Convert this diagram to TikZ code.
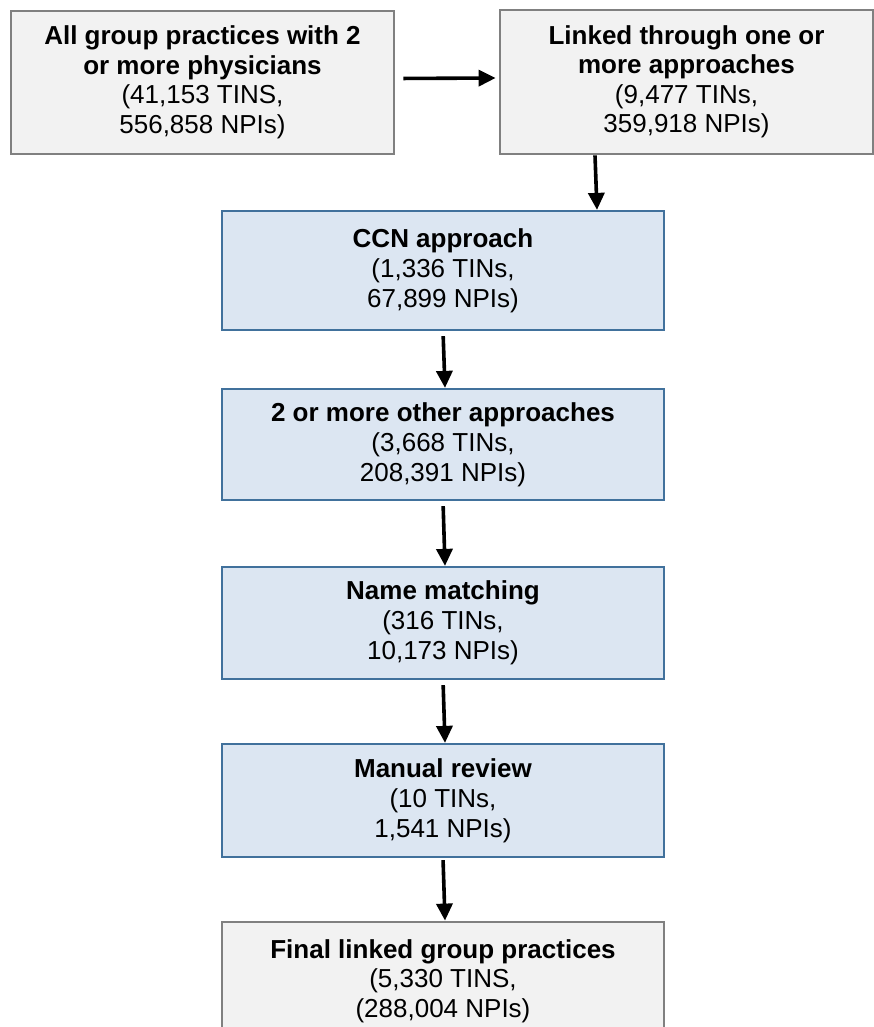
\documentclass[tikz,border=0pt]{standalone}
\usepackage{fontspec}
\setmainfont{Liberation Sans}
\usetikzlibrary{arrows.meta}

\definecolor{boxgray}{HTML}{F2F2F2}
\definecolor{linegray}{HTML}{808080}
\definecolor{boxblue}{HTML}{DCE6F2}
\definecolor{lineblue}{HTML}{41719C}

\tikzset{
    graybox/.style={draw=linegray, fill=boxgray, line width=2.8pt, align=center, inner sep=0pt,
        font=\fontsize{26}{29.5}\selectfont},
    bluebox/.style={draw=lineblue, fill=boxblue, line width=2.2pt, align=center, inner sep=0pt,
        minimum width=442pt, font=\fontsize{26}{30}\selectfont},
    arr/.style={line width=3.6pt, -{Triangle[length=17pt,width=16pt]}}
}

\begin{document}
\begin{tikzpicture}[x=1pt, y=-1pt]
    \useasboundingbox (0,0) rectangle (874,1027);

    \node[graybox, minimum width=383pt, minimum height=143pt] (allgroups) at (202.5,82.5)
        {\textbf{All group practices with 2}\\\textbf{or more physicians}\\(41,153 TINS,\\556,858 NPIs)};
    \node[graybox, minimum width=373pt, minimum height=144pt] (linked) at (686.5,82)
        {\textbf{Linked through one or}\\\textbf{more approaches}\\(9,477 TINs,\\359,918 NPIs)};

    \node[bluebox, minimum height=119pt] (ccn) at (443,270.5)
        {\textbf{CCN approach}\\(1,336 TINs,\\67,899 NPIs)};
    \node[bluebox, minimum height=111pt] (other) at (443,444.5)
        {\textbf{2 or more other approaches}\\(3,668 TINs,\\208,391 NPIs)};
    \node[bluebox, minimum height=112pt] (namematch) at (443,623)
        {\textbf{Name matching}\\(316 TINs,\\10,173 NPIs)};
    \node[bluebox, minimum height=113pt] (manual) at (443,800.5)
        {\textbf{Manual review}\\(10 TINs,\\1,541 NPIs)};

    \node[graybox, minimum width=442pt, minimum height=118pt] (final) at (443,981)
        {\textbf{Final linked group practices}\\(5,330 TINS,\\(288,004 NPIs)};

    \draw[arr, shorten <=8pt, shorten >=3pt] ([yshift=4pt]allgroups.east) -- ([yshift=4pt]linked.west);
    \draw[arr] ([xshift=-91.5pt]linked.south) -- ([xshift=154pt]ccn.north);
    \draw[arr, shorten <=5pt] (ccn.south) -- ([xshift=2pt]other.north);
    \draw[arr, shorten <=5pt] (other.south) -- ([xshift=2pt]namematch.north);
    \draw[arr, shorten <=5pt] (namematch.south) -- ([xshift=2pt]manual.north);
    \draw[arr, shorten <=2pt] (manual.south) -- ([xshift=2pt]final.north);
\end{tikzpicture}
\end{document}
